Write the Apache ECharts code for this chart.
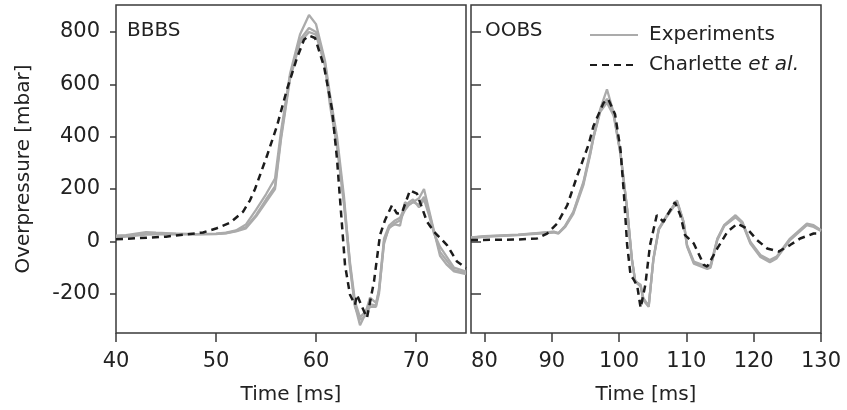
<!DOCTYPE html>
<html>
<head>
<meta charset="utf-8">
<script src="https://cdn.jsdelivr.net/npm/echarts@6/dist/echarts.min.js"></script>
<style>
html,body{margin:0;padding:0;background:#fff;}
#c{width:847px;height:410px;}
</style>
</head>
<body>
<div id="c"></div>
<script>
// ---------- DATA ----------
// Left panel (BBBS) experiments
const tExpL = [40, 41, 42, 43, 44, 46, 48, 50, 51, 52, 53, 54, 55, 55.9, 56.5, 57.4, 58.4, 59.3, 60, 60.9, 61.4, 62.1, 62.8, 63.4, 63.9, 64.4, 64.9, 65.4, 66, 66.3, 66.8, 67.3, 67.9, 68.4, 68.9, 69.3, 69.7, 70.3, 70.8, 71.3, 71.8, 72.4, 73.1, 73.8, 75];
const expL1 = [22, 24, 30, 35, 33, 30, 28, 30, 33, 42, 65, 120, 180, 240, 420, 640, 790, 865, 830, 690, 560, 400, 170, -90, -245, -320, -280, -215, -235, -190, -10, 55, 65, 60, 150, 140, 150, 165, 200, 120, 40, -55, -90, -115, -125];
const expL2 = [15, 18, 22, 26, 27, 27, 27, 28, 32, 40, 55, 100, 160, 210, 400, 630, 770, 815, 800, 680, 540, 380, 150, -80, -230, -290, -270, -240, -245, -180, 10, 60, 80, 90, 130, 150, 160, 130, 160, 100, 30, -20, -60, -100, -115];
const expL3 = [20, 22, 25, 30, 30, 29, 28, 29, 31, 38, 50, 95, 150, 200, 390, 620, 760, 800, 790, 670, 520, 360, 140, -100, -250, -300, -285, -250, -250, -200, 0, 50, 70, 80, 120, 140, 150, 140, 170, 110, 35, -40, -75, -110, -120];
// Left panel (BBBS) simulation, Charlette et al.
const tSimL = [40, 42, 45, 48.7, 50, 51.4, 52.7, 53.4, 53.9, 55.1, 56.1, 57.1, 58.1, 58.8, 59.3, 59.9, 60.8, 61.6, 62.1, 62.4, 62.9, 63.4, 63.9, 64.1, 64.6, 65.1, 65.8, 66.4, 66.9, 67.6, 68.1, 68.6, 69.4, 70.1, 71.1, 71.8, 73.1, 74.1, 75];
const simL = [8, 12, 18, 34, 49, 71, 113, 157, 200, 327, 441, 581, 701, 770, 786, 777, 669, 505, 315, 163, -90, -204, -242, -204, -250, -292, -153, 24, 81, 138, 106, 110, 195, 182, 75, 37, -14, -77, -102];

// Right panel (OOBS) experiments
const tExpR = [78, 80, 85, 90.3, 91, 92, 93.2, 94.7, 95.7, 96.2, 97.2, 98.2, 99.2, 100.2, 101.2, 101.9, 102.4, 103.2, 103.6, 104.4, 105.1, 105.9, 107.1, 108.6, 109.6, 110.1, 111.1, 113.1, 113.6, 114.6, 115.6, 117.3, 118.3, 119.5, 121, 122.4, 123.4, 125.4, 127.9, 128.9, 130];
const expR1 = [15, 20, 26, 37, 32, 60, 113, 227, 341, 403, 505, 581, 490, 340, 125, -65, -153, -166, -216, -248, -65, 49, 100, 157, 75, -14, -77, -96, -90, 11, 62, 100, 75, -1, -52, -71, -58, 11, 68, 62, 43];
const expR2 = [12, 17, 24, 34, 30, 55, 105, 215, 330, 395, 495, 530, 480, 335, 120, -70, -150, -170, -220, -245, -70, 45, 95, 150, 70, -20, -85, -105, -100, 5, 58, 92, 70, -8, -60, -80, -65, 5, 62, 55, 40];
const expR3 = [14, 19, 25, 36, 31, 58, 110, 222, 335, 398, 500, 545, 485, 338, 122, -68, -155, -172, -225, -250, -68, 47, 97, 153, 72, -17, -80, -100, -95, 8, 60, 96, 72, -4, -56, -76, -62, 8, 65, 58, 42];
// Right panel (OOBS) simulation
const tSimR = [78, 85, 87.8, 89.3, 90.8, 92.3, 93.8, 95.5, 96.2, 97.7, 98.4, 99.4, 100.2, 100.7, 101.2, 101.7, 102.2, 102.7, 103.2, 103.9, 104.6, 105.6, 106.6, 108.3, 109.1, 109.8, 111.1, 112.6, 113.1, 114.6, 116.1, 117.6, 119, 120.5, 122, 123.7, 125.4, 126.9, 128.9, 130];
const simR = [5, 7, 11, 30, 68, 138, 252, 372, 441, 530, 543, 486, 353, 189, -14, -128, -147, -170, -254, -166, -14, 100, 75, 150, 100, 24, -8, -90, -96, -27, 37, 68, 49, 5, -27, -39, -14, 11, 30, 30];

// Ticks
const yTicks = [-200, 0, 200, 400, 600, 800];
const xTicksL = [40, 50, 60, 70];
const xTicksR = [80, 90, 100, 110, 120, 130];
const panelLabels = ['BBBS', 'OOBS'];
const legendNames = ['Experiments', 'Charlette et al.'];

// ---------- CHART ----------
const FONT = '"DejaVu Sans"';
const pairs = (t, v) => t.map((x, i) => [x, v[i]]);
const gray = '#ababab';
const dark = '#1c1c1c';
const ink = '#222';
const frame = '#3a3a3a';

function expSeries(t, v, xi) {
  return {type: 'line', name: legendNames[0], xAxisIndex: xi, yAxisIndex: xi,
    data: pairs(t, v), symbol: 'none', smooth: false,
    lineStyle: {color: gray, width: 2.3}, itemStyle: {color: gray}, z: 2, animation: false};
}
function simSeries(t, v, xi) {
  return {type: 'line', name: legendNames[1], xAxisIndex: xi, yAxisIndex: xi,
    data: pairs(t, v), symbol: 'none', smooth: false,
    lineStyle: {color: dark, width: 2.5, type: [7, 5]}, itemStyle: {color: dark}, z: 3, animation: false};
}

const chart = echarts.init(document.getElementById('c'), null, {renderer: 'canvas'});
const axisLabelStyle = {fontFamily: FONT, fontSize: 21, color: ink};
const nameStyle = {fontFamily: FONT, fontSize: 20, color: ink};
chart.setOption({
  animation: false,
  textStyle: {fontFamily: FONT},
  title: [
    {text: panelLabels[0], left: 122, top: 16, textStyle: {fontFamily: FONT, fontSize: 20, fontWeight: 'normal', color: ink}},
    {text: panelLabels[1], left: 480, top: 16, textStyle: {fontFamily: FONT, fontSize: 20, fontWeight: 'normal', color: ink}}
  ],
  legend: {
    data: legendNames, orient: 'vertical', left: 584, top: 20, itemWidth: 48, itemHeight: 14, itemGap: 10,
    itemStyle: {opacity: 0},
    textStyle: {fontFamily: FONT, fontSize: 20, color: ink, padding: [0, 0, 0, 6],
      rich: {i: {fontStyle: 'italic', fontFamily: FONT, fontSize: 20, color: ink}}},
    formatter: n => n === legendNames[1] ? 'Charlette {i|et al.}' : n,
    selectedMode: false
  },
  grid: [
    {left: 116, top: 5, width: 350, height: 330, show: true, borderColor: frame, borderWidth: 1.5, backgroundColor: 'transparent'},
    {left: 471, top: 5, width: 350, height: 330, show: true, borderColor: frame, borderWidth: 1.5, backgroundColor: 'transparent'}
  ],
  xAxis: [
    {type: 'value', gridIndex: 0, min: 40, max: 75, name: 'Time [ms]', nameLocation: 'middle', nameGap: 52,
      nameTextStyle: nameStyle,
      axisLine: {show: false, onZero: false}, splitLine: {show: false},
      axisTick: {show: true, inside: false, length: 9, lineStyle: {color: frame, width: 1.5}, customValues: xTicksL},
      axisLabel: Object.assign({margin: 18, customValues: xTicksL}, axisLabelStyle)},
    {type: 'value', gridIndex: 1, min: 78, max: 130, name: 'Time [ms]', nameLocation: 'middle', nameGap: 52,
      nameTextStyle: nameStyle,
      axisLine: {show: false, onZero: false}, splitLine: {show: false},
      axisTick: {show: true, inside: false, length: 9, lineStyle: {color: frame, width: 1.5}, customValues: xTicksR},
      axisLabel: Object.assign({margin: 18, customValues: xTicksR}, axisLabelStyle)}
  ],
  yAxis: [
    {type: 'value', gridIndex: 0, min: -350, max: 903, name: 'Overpressure [mbar]', nameLocation: 'middle', nameGap: 82,
      nameTextStyle: nameStyle,
      axisLine: {show: false, onZero: false}, splitLine: {show: false},
      axisTick: {show: true, inside: false, length: 6, lineStyle: {color: frame, width: 1.5}, customValues: yTicks},
      axisLabel: Object.assign({margin: 16, customValues: yTicks}, axisLabelStyle)},
    {type: 'value', gridIndex: 1, min: -350, max: 903,
      axisLine: {show: false, onZero: false}, splitLine: {show: false},
      axisTick: {show: true, inside: true, length: 10, lineStyle: {color: frame, width: 1.5}, customValues: yTicks},
      axisLabel: {show: false}}
  ],
  series: [
    expSeries(tExpL, expL1, 0), expSeries(tExpL, expL2, 0), expSeries(tExpL, expL3, 0),
    simSeries(tSimL, simL, 0),
    expSeries(tExpR, expR1, 1), expSeries(tExpR, expR2, 1), expSeries(tExpR, expR3, 1),
    simSeries(tSimR, simR, 1)
  ]
});
</script>
</body>
</html>
